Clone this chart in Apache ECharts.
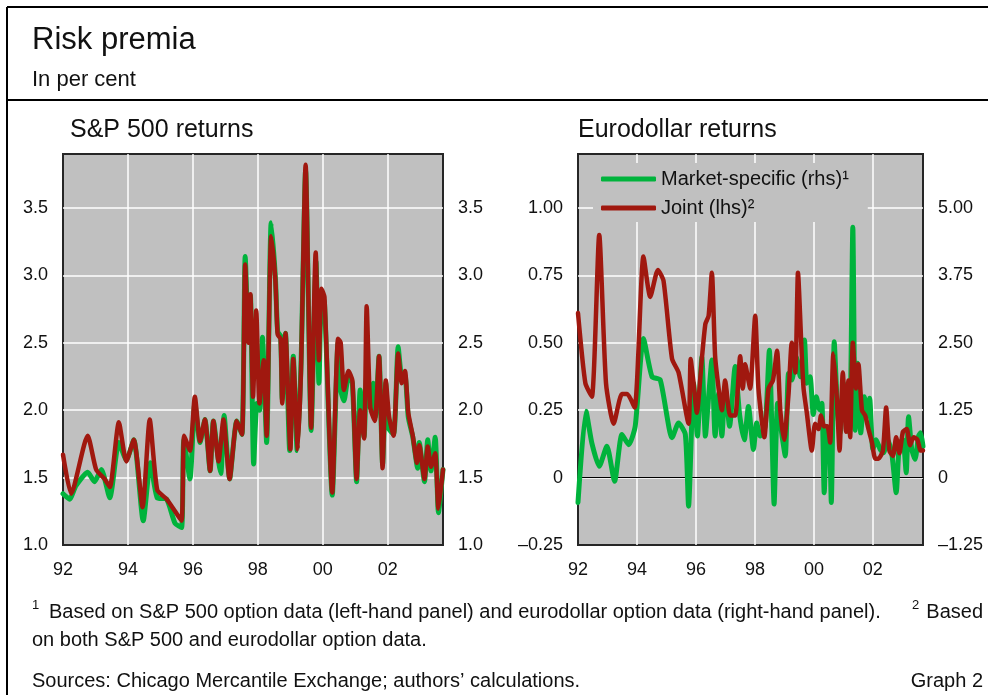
<!DOCTYPE html>
<html>
<head>
<meta charset="utf-8">
<script src="https://cdn.jsdelivr.net/npm/echarts@6/dist/echarts.min.js"></script>
<style>
  html, body { margin: 0; padding: 0; background: #ffffff; }
  #chart { width: 988px; height: 695px; }
</style>
</head>
<body>
<div id="chart"></div>
<script>
// S&P 500 returns, risk premia in per cent: [decimal year, value]
const spxMarket = [
  [1992.00,1.38],[1992.20,1.34],[1992.40,1.44],[1992.76,1.54],[1992.97,1.47],[1993.18,1.56],
  [1993.44,1.35],[1993.72,1.76],[1993.95,1.63],[1994.18,1.78],[1994.47,1.18],[1994.69,1.61],
  [1994.90,1.35],[1995.19,1.34],[1995.45,1.16],[1995.65,1.13],[1995.72,1.78],[1995.91,1.49],
  [1996.06,2.05],[1996.22,1.76],[1996.37,1.93],[1996.53,1.55],[1996.63,1.92],[1996.79,1.62],
  [1996.86,1.53],[1996.96,1.96],[1997.13,1.49],[1997.35,1.92],[1997.51,1.82],[1997.61,3.14],
  [1997.71,2.55],[1997.77,2.85],[1997.87,1.60],[1997.97,2.05],[1998.05,2.00],[1998.14,2.54],
  [1998.27,1.76],[1998.41,3.39],[1998.54,2.98],[1998.61,2.58],[1998.70,2.55],[1998.75,2.08],
  [1998.85,2.57],[1998.98,1.70],[1999.09,2.40],[1999.21,1.70],[1999.33,2.35],[1999.47,3.78],
  [1999.64,1.85],[1999.76,2.94],[1999.79,3.10],[1999.88,2.20],[1999.96,2.85],[2000.05,2.80],
  [2000.29,1.37],[2000.47,2.50],[2000.55,2.15],[2000.65,2.07],[2000.79,2.25],[2000.91,2.20],
  [2001.04,1.47],[2001.15,2.15],[2001.27,1.80],[2001.35,2.25],[2001.46,2.02],[2001.55,2.20],
  [2001.62,1.95],[2001.73,2.40],[2001.84,1.60],[2001.94,2.20],[2002.01,1.87],[2002.18,1.82],
  [2002.32,2.47],[2002.43,2.25],[2002.53,2.25],[2002.63,1.95],[2002.77,1.80],[2002.92,1.57],
  [2002.97,1.76],[2003.13,1.47],[2003.23,1.78],[2003.33,1.55],[2003.46,1.80],[2003.56,1.24],
  [2003.70,1.56]
];
const spxJoint = [
  [1992.00,1.67],[1992.25,1.38],[1992.76,1.81],[1993.02,1.56],[1993.28,1.49],[1993.44,1.43],
  [1993.72,1.91],[1993.95,1.62],[1994.18,1.78],[1994.45,1.28],[1994.67,1.93],[1994.90,1.41],
  [1995.19,1.34],[1995.45,1.25],[1995.65,1.18],[1995.73,1.81],[1995.91,1.70],[1996.06,2.10],
  [1996.22,1.77],[1996.37,1.93],[1996.53,1.55],[1996.63,1.92],[1996.79,1.62],[1996.94,1.93],
  [1997.13,1.49],[1997.35,1.92],[1997.51,1.82],[1997.61,3.08],[1997.71,2.50],[1997.77,2.86],
  [1997.85,2.10],[1997.95,2.74],[1998.05,2.05],[1998.18,2.37],[1998.27,1.81],[1998.41,3.29],
  [1998.54,2.96],[1998.61,2.56],[1998.70,2.53],[1998.75,2.05],[1998.85,2.57],[1999.00,1.71],
  [1999.09,2.38],[1999.23,1.71],[1999.33,2.32],[1999.47,3.82],[1999.64,1.87],[1999.78,3.17],
  [1999.88,2.37],[1999.96,2.90],[2000.05,2.84],[2000.29,1.39],[2000.47,2.53],[2000.55,2.50],
  [2000.65,2.15],[2000.79,2.29],[2000.91,2.22],[2001.04,1.49],[2001.15,2.00],[2001.27,1.79],
  [2001.35,2.77],[2001.46,2.02],[2001.60,1.92],[2001.73,2.40],[2001.84,1.57],[2001.94,2.22],
  [2002.04,1.95],[2002.18,1.81],[2002.32,2.42],[2002.43,2.20],[2002.53,2.29],[2002.63,1.98],
  [2002.77,1.81],[2002.90,1.61],[2002.97,1.74],[2003.13,1.49],[2003.23,1.73],[2003.33,1.58],
  [2003.46,1.68],[2003.56,1.27],[2003.70,1.56]
];

// Eurodollar returns: market-specific (right-hand scale), joint (left-hand scale)
const edMarket = [
  [1992.00,-0.46],[1992.27,1.23],[1992.47,0.64],[1992.72,0.21],[1992.98,0.58],[1993.24,-0.07],
  [1993.49,0.80],[1993.72,0.61],[1993.94,0.95],[1994.22,2.58],[1994.51,1.87],[1994.79,1.81],
  [1995.19,0.74],[1995.41,1.01],[1995.64,0.80],[1995.75,-0.53],[1995.92,1.75],[1996.05,0.77],
  [1996.20,2.24],[1996.32,0.77],[1996.43,1.50],[1996.54,2.18],[1996.65,0.77],[1996.77,1.56],
  [1996.88,0.77],[1996.99,1.69],[1997.14,0.95],[1997.33,2.06],[1997.48,1.17],[1997.64,0.70],
  [1997.78,1.32],[1997.95,0.52],[1998.06,1.01],[1998.18,0.77],[1998.35,0.95],[1998.49,2.36],
  [1998.57,1.01],[1998.65,-0.49],[1998.77,1.38],[1998.92,0.77],[1999.03,0.40],[1999.14,1.93],
  [1999.25,1.81],[1999.40,2.24],[1999.54,1.87],[1999.68,2.55],[1999.76,1.75],[1999.87,1.87],
  [1999.98,1.17],[2000.08,1.50],[2000.19,1.26],[2000.27,1.38],[2000.35,-0.28],[2000.44,0.88],
  [2000.53,0.70],[2000.59,-0.46],[2000.69,2.52],[2000.80,1.26],[2000.89,0.83],[2001.00,1.75],
  [2001.12,0.95],[2001.21,0.83],[2001.32,4.64],[2001.40,0.88],[2001.48,2.12],[2001.59,0.83],
  [2001.71,1.50],[2001.80,1.13],[2001.89,1.47],[2002.00,0.52],[2002.11,0.70],[2002.25,0.52],
  [2002.36,0.46],[2002.50,0.70],[2002.64,0.46],[2002.79,-0.28],[2002.90,0.64],[2003.02,0.70],
  [2003.13,0.09],[2003.21,1.13],[2003.32,0.52],[2003.43,0.34],[2003.55,0.77],[2003.62,0.83],
  [2003.70,0.58]
];
const edJoint = [
  [1992.00,0.61],[1992.25,0.35],[1992.47,0.30],[1992.72,0.90],[1992.95,0.35],[1993.21,0.20],
  [1993.49,0.31],[1993.67,0.31],[1993.92,0.26],[1994.22,0.82],[1994.45,0.67],[1994.71,0.77],
  [1994.90,0.73],[1995.19,0.44],[1995.41,0.39],[1995.75,0.20],[1995.82,0.44],[1995.92,0.35],
  [1996.03,0.24],[1996.20,0.44],[1996.32,0.57],[1996.43,0.60],[1996.54,0.76],[1996.65,0.45],
  [1996.77,0.33],[1996.88,0.25],[1996.99,0.36],[1997.16,0.23],[1997.33,0.23],[1997.50,0.45],
  [1997.59,0.33],[1997.67,0.42],[1997.78,0.36],[1997.84,0.33],[1998.01,0.60],[1998.12,0.33],
  [1998.32,0.15],[1998.46,0.33],[1998.61,0.36],[1998.75,0.47],[1998.86,0.25],[1998.99,0.14],
  [1999.14,0.31],[1999.25,0.50],[1999.37,0.39],[1999.46,0.76],[1999.59,0.45],[1999.65,0.33],
  [1999.76,0.24],[1999.93,0.10],[2000.04,0.20],[2000.16,0.18],[2000.24,0.23],[2000.35,0.19],
  [2000.46,0.19],[2000.55,0.13],[2000.66,0.46],[2000.78,0.29],[2000.87,0.10],[2000.98,0.39],
  [2001.09,0.17],[2001.17,0.36],[2001.23,0.15],[2001.32,0.50],[2001.43,0.33],[2001.51,0.42],
  [2001.63,0.25],[2001.74,0.23],[2001.85,0.18],[2001.97,0.13],[2002.08,0.07],[2002.19,0.07],
  [2002.34,0.10],[2002.45,0.26],[2002.56,0.10],[2002.68,0.08],[2002.79,0.15],[2002.90,0.09],
  [2003.02,0.17],[2003.15,0.18],[2003.26,0.12],[2003.38,0.15],[2003.51,0.14],[2003.62,0.10],
  [2003.70,0.10]
];

// Axis ranges and tick steps
const yearRange = [1992, 2003.7];
const yearStep = 2;
const spxRange = [1.0, 3.9];
const spxStep = 0.5;
const edLeftRange = [-0.25, 1.2];
const edLeftStep = 0.25;
const edRightRange = [-1.25, 6.0];
const edRightStep = 1.25;

const seriesNames = ['Market-specific (rhs)\u00b9', 'Joint (lhs)\u00b2'];

const GREEN = '#00b33c';
const RED = '#a0180f';
const PLOT_BG = '#c0c0c0';
const FONT = '"Liberation Sans", Arial, Helvetica, sans-serif';
const INK = '#111111';

const yearLabel = v => String(Math.round(v)).slice(2);
const dash = s => s.replace('-', '\u2013');
const fmt1 = lim => v => (v > lim + 1e-9 ? '' : v.toFixed(1));
const fmt2 = lim => v => (v > lim + 1e-9 ? '' : (Math.abs(v) < 1e-9 ? '0' : dash(v.toFixed(2))));

const gridBase = {
  show: true, backgroundColor: PLOT_BG, borderColor: '#262626', borderWidth: 2,
  top: 154, height: 391, containLabel: false
};
const whiteSplit = {
  show: true, showMinLine: false, showMaxLine: false,
  lineStyle: { color: '#ffffff', width: 1.5 }
};
const labelStyle = { fontFamily: FONT, fontSize: 18, color: INK };

function xAxisFor(gridIndex) {
  return {
    type: 'value', gridIndex, min: yearRange[0], max: yearRange[1], interval: yearStep,
    axisLine: { show: false }, axisTick: { show: false },
    axisLabel: Object.assign({ formatter: yearLabel, margin: 16, lineHeight: 18, showMaxLabel: false }, labelStyle),
    splitLine: whiteSplit
  };
}
function yAxisFor(gridIndex, position, range, step, formatter, split) {
  return {
    type: 'value', gridIndex, position, min: range[0], max: range[1], interval: step,
    axisLine: { show: false }, axisTick: { show: false },
    axisLabel: Object.assign({ formatter, margin: 15, showMaxLabel: false }, labelStyle),
    splitLine: split ? whiteSplit : { show: false }
  };
}

function lineSeries(name, data, color, width, xIdx, yIdx, z) {
  return {
    type: 'line', name, data, xAxisIndex: xIdx, yAxisIndex: yIdx,
    showSymbol: false, symbol: 'none', smooth: 0.2, z,
    color, lineStyle: { color, width, cap: 'round', join: 'round' }
  };
}

function txt(text, x, y, size, extra) {
  return {
    type: 'text', silent: true,
    style: Object.assign({ text, x, y, fill: INK, font: size + 'px ' + FONT, verticalAlign: 'middle', align: 'left' }, extra || {})
  };
}
function hline(x1, x2, y) {
  return { type: 'line', silent: true, shape: { x1, y1: y, x2, y2: y }, style: { stroke: '#000', lineWidth: 2 } };
}
function vline(x, y1, y2) {
  return { type: 'line', silent: true, shape: { x1: x, y1, x2: x, y2 }, style: { stroke: '#000', lineWidth: 2 } };
}

const chart = echarts.init(document.getElementById('chart'), null, { renderer: 'canvas' });

chart.setOption({
  animation: false,
  backgroundColor: '#ffffff',
  grid: [
    Object.assign({ left: 63, width: 380 }, gridBase),
    Object.assign({ left: 578, width: 345 }, gridBase)
  ],
  xAxis: [
    xAxisFor(0),
    xAxisFor(1),
    // zero line of the eurodollar panel
    {
      type: 'value', gridIndex: 1, min: yearRange[0], max: yearRange[1], z: 1,
      axisLine: { show: true, onZero: true, lineStyle: { color: '#000', width: 1 } },
      axisTick: { show: false }, axisLabel: { show: false }, splitLine: { show: false }
    }
  ],
  yAxis: [
    yAxisFor(0, 'left', spxRange, spxStep, fmt1(3.5), true),
    yAxisFor(0, 'right', spxRange, spxStep, fmt1(3.5), false),
    yAxisFor(1, 'left', edLeftRange, edLeftStep, fmt2(1.0), true),
    yAxisFor(1, 'right', edRightRange, edRightStep, fmt2(5.0), false)
  ],
  legend: {
    data: seriesNames,
    orient: 'vertical', left: 593, top: 163,
    itemWidth: 55, itemHeight: 5, itemGap: 9, icon: 'roundRect',
    padding: [6, 19, 4, 8],
    backgroundColor: PLOT_BG,
    textStyle: { fontFamily: FONT, fontSize: 20, color: INK },
    selectedMode: false
  },
  series: [
    lineSeries(seriesNames[0], spxMarket, GREEN, 5, 0, 0, 2),
    lineSeries(seriesNames[1], spxJoint, RED, 4.5, 0, 0, 3),
    lineSeries(seriesNames[0], edMarket, GREEN, 5, 1, 3, 2),
    lineSeries(seriesNames[1], edJoint, RED, 4.5, 1, 2, 3)
  ],
  graphic: [
    hline(7, 988, 7),
    vline(7, 7, 695),
    hline(7, 988, 100),
    txt('Risk premia', 32, 40, 31),
    txt('In per cent', 32, 80, 22),
    txt('S&P 500 returns', 70, 130, 25),
    txt('Eurodollar returns', 578, 130, 25),
    txt('1', 32, 605, 13),
    txt('Based on S&P 500 option data (left-hand panel) and eurodollar option data (right-hand panel).', 49, 612, 20),
    txt('2', 912, 605, 13),
    txt('Based', 983, 612, 20, { align: 'right' }),
    txt('on both S&P 500 and eurodollar option data.', 32, 640, 20),
    txt('Sources: Chicago Mercantile Exchange; authors\u2019 calculations.', 32, 681, 20),
    txt('Graph 2', 983, 681, 20, { align: 'right' })
  ]
});
</script>
</body>
</html>
